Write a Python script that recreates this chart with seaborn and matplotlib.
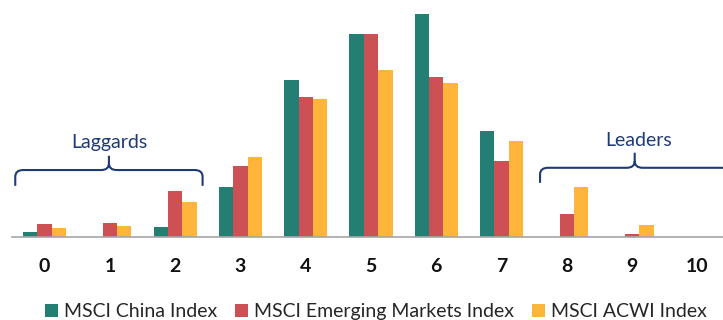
import matplotlib.pyplot as plt
import seaborn as sns
import pandas as pd
from matplotlib.path import Path
from matplotlib.patches import PathPatch

categories = [str(i) for i in range(11)]
series = ["MSCI China Index", "MSCI Emerging Markets Index", "MSCI ACWI Index"]
china = [0.6, 0.0, 1.3, 6.7, 20.9, 27.0, 29.7, 14.1, 0.0, 0.0, 0.0]
em = [1.7, 1.8, 6.1, 9.5, 18.6, 27.0, 21.3, 10.1, 3.0, 0.4, 0.0]
acwi = [1.2, 1.4, 4.7, 10.6, 18.3, 22.2, 20.5, 12.8, 6.6, 1.6, 0.0]
colors = ["#237F73", "#CD5055", "#FFB43A"]

df = pd.DataFrame({
    "score": categories * 3,
    "index": [s for s in series for _ in categories],
    "value": china + em + acwi,
})

sns.set_style("white")
plt.rcParams["font.family"] = ["Lato", "DejaVu Sans"]

fig = plt.figure(figsize=(7.23, 3.2), dpi=100)
ax = fig.add_axes([12 / 723, 83 / 320, 718 / 723, 237 / 320])

sns.barplot(data=df, x="score", y="value", hue="index", palette=colors,
            saturation=1, width=0.66, gap=0, linewidth=0, ax=ax, legend=True)

ax.set_xlim(-0.5, 10.5)
ax.set_ylim(0, 31.5)
ax.set_xlabel("")
ax.set_ylabel("")
ax.set_yticks([])
for side in ["top", "right", "left"]:
    ax.spines[side].set_visible(False)
ax.spines["bottom"].set_color("#A6A6A6")
ax.spines["bottom"].set_linewidth(1.2)

ax.set_xticks(range(11))
ax.set_xticklabels(categories, fontsize=14, fontweight="bold", color="#111111")
ax.tick_params(axis="x", which="major", length=0, pad=15)
ax.set_xticks([i - 0.5 for i in range(12)], minor=True)
ax.tick_params(axis="x", which="minor", length=6, width=1.2, color="#A6A6A6")

navy = "#1F3B73"


def brace(x0, xm, x1, yb, yc, yp):
    r = 0.12
    ry = 0.9
    verts = [
        (x0, yb), (x0, yc - ry), (x0, yc), (x0 + r, yc),
        (xm - r, yc), (xm, yc), (xm, yc + ry), (xm, yp),
        (xm, yc + ry), (xm, yc), (xm + r, yc),
        (x1 - r, yc), (x1, yc), (x1, yc - ry), (x1, yb),
    ]
    codes = [Path.MOVETO, Path.LINETO, Path.CURVE3, Path.CURVE3,
             Path.LINETO, Path.CURVE3, Path.CURVE3, Path.LINETO,
             Path.MOVETO, Path.CURVE3, Path.CURVE3,
             Path.LINETO, Path.CURVE3, Path.CURVE3, Path.LINETO]
    ax.add_patch(PathPatch(Path(verts, codes), fill=False, edgecolor=navy,
                           linewidth=1.5, clip_on=False))


brace(-0.45, 0.985, 2.42, 6.8, 8.9, 10.8)
brace(7.59, 9.04, 10.49, 7.2, 9.2, 11.2)
ax.text(0.985, 12.6, "Laggards", ha="center", va="center", color=navy, fontsize=14)
ax.text(9.1, 12.8, "Leaders", ha="center", va="center", color=navy, fontsize=14)

handles, labels = ax.get_legend_handles_labels()
ax.legend(handles, labels, loc="center", bbox_to_anchor=(0.5 * 723 / 718 - 12 / 718 + 0.02, -0.315),
          ncol=3, frameon=False, fontsize=14, handlelength=0.7, handleheight=0.7,
          handletextpad=0.3, columnspacing=0.9, borderaxespad=0)

fig.savefig("out.png", dpi=100)
